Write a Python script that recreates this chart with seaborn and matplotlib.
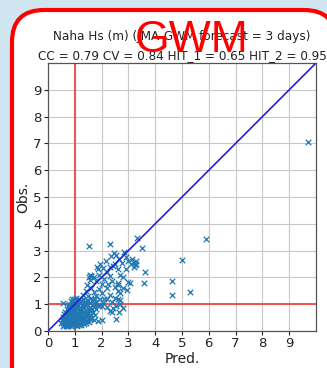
import matplotlib
matplotlib.use("Agg")
import matplotlib.pyplot as plt
from matplotlib.patches import FancyBboxPatch
import seaborn as sns
import pandas as pd

# Naha significant wave height: forecast (Pred.) vs observation (Obs.), in metres
pred_core = [
    0.55, 0.60, 0.66, 0.71, 0.76, 0.82, 0.87, 0.93, 0.98, 1.04, 1.09, 1.16, 1.24, 1.33,
    0.50, 0.56, 0.62, 0.68, 0.74, 0.80, 0.86, 0.92, 0.99, 1.05, 1.12, 1.20, 1.30, 1.41, 1.52,
    0.51, 0.58, 0.65, 0.72, 0.80, 0.88, 0.95, 1.02, 1.10, 1.18, 1.26, 1.35, 1.45, 1.56, 1.70, 1.86,
    0.55, 0.62, 0.70, 0.78, 0.85, 0.92, 1.00, 1.08, 1.15, 1.22, 1.30, 1.40, 1.50, 1.61,
    0.60, 0.68, 0.75, 0.82, 0.90, 0.98, 1.05, 1.12, 1.20, 1.28, 1.38, 1.48, 1.60, 1.75,
    0.65, 0.72, 0.80, 0.88, 0.95, 1.02, 1.10, 1.18, 1.25, 1.35, 1.45, 1.55, 1.68,
    0.70, 0.78, 0.85, 0.92, 1.00, 1.08, 1.15, 1.22, 1.30, 1.40, 1.52, 1.65, 1.80,
    0.75, 0.82, 0.90, 0.97, 1.05, 1.12, 1.20, 1.30, 1.42, 1.55, 1.70, 1.90,
    0.80, 0.88, 0.95, 1.02, 1.10, 1.18, 1.28, 1.40, 1.55, 1.70, 1.85, 2.05,
    0.85, 0.92, 1.00, 1.08, 1.15, 1.25, 1.38, 1.50, 1.65, 1.80,
    0.90, 0.98, 1.05, 1.15, 1.30, 1.45, 1.60, 1.75, 1.95, 2.20,
]
obs_core = [
    0.18, 0.22, 0.19, 0.24, 0.20, 0.23, 0.18, 0.22, 0.25, 0.21, 0.19, 0.24, 0.22, 0.26,
    0.31, 0.28, 0.33, 0.29, 0.32, 0.27, 0.34, 0.30, 0.28, 0.33, 0.31, 0.29, 0.35, 0.30, 0.33,
    0.42, 0.38, 0.41, 0.44, 0.39, 0.42, 0.37, 0.43, 0.40, 0.45, 0.38, 0.42, 0.39, 0.44, 0.41, 0.38,
    0.52, 0.48, 0.51, 0.54, 0.49, 0.53, 0.47, 0.52, 0.55, 0.50, 0.48, 0.53, 0.51, 0.49,
    0.62, 0.58, 0.61, 0.64, 0.59, 0.63, 0.57, 0.62, 0.65, 0.60, 0.58, 0.63, 0.61, 0.59,
    0.72, 0.68, 0.71, 0.74, 0.69, 0.73, 0.67, 0.72, 0.75, 0.70, 0.68, 0.73, 0.71,
    0.82, 0.78, 0.81, 0.84, 0.79, 0.83, 0.77, 0.82, 0.85, 0.80, 0.78, 0.83, 0.81,
    0.92, 0.88, 0.91, 0.94, 0.89, 0.93, 0.87, 0.92, 0.95, 0.90, 0.88, 0.93,
    1.02, 0.98, 1.01, 1.04, 0.99, 1.03, 0.97, 1.02, 1.05, 1.00, 0.98, 1.03,
    1.12, 1.08, 1.11, 1.14, 1.09, 1.13, 1.07, 1.12, 1.15, 1.10,
    1.20, 1.18, 1.22, 1.19, 1.21, 1.17, 1.23, 1.20, 1.18, 1.21,
]
pred_mid = [
    1.30, 1.40, 1.50, 1.60, 1.70, 1.45, 1.80, 1.90, 2.00, 2.10, 2.20, 2.30, 2.40, 2.50,
    2.60, 2.70, 2.55, 2.44, 2.30, 2.80, 2.65, 2.20, 2.00, 1.55, 1.60, 1.70, 1.80, 1.90,
    2.00, 2.10, 2.20, 2.30, 2.40, 2.50, 2.60, 2.70, 2.80, 2.62, 1.82, 1.85, 1.95, 2.05,
    2.15, 2.30, 2.44, 2.50, 2.60, 2.70, 2.80, 2.35, 2.45, 2.55, 2.65, 2.75, 2.85, 2.90,
    3.00, 3.10, 3.20, 3.25, 3.30, 3.20, 3.15, 3.30, 2.90, 2.25, 2.62, 3.00, 3.06, 2.94,
    2.69, 2.38, 2.00, 2.55, 1.54, 1.54, 1.62, 1.58, 2.31, 3.31, 3.52, 3.62, 3.59, 0.55,
]
obs_mid = [
    1.35, 1.50, 1.30, 1.60, 1.45, 1.70, 1.30, 1.55, 1.40, 1.20, 1.60, 1.35, 1.10, 1.25,
    1.20, 1.00, 0.95, 0.84, 0.75, 0.85, 0.72, 0.90, 0.95, 1.90, 2.05, 2.00, 1.85, 2.10,
    1.75, 1.95, 2.20, 2.05, 1.85, 1.65, 1.50, 1.40, 1.60, 1.80, 2.38, 2.30, 2.50, 2.35,
    2.60, 2.40, 2.44, 2.50, 2.30, 2.10, 2.00, 2.80, 2.90, 2.85, 2.70, 2.55, 2.95, 2.75,
    2.60, 2.50, 2.55, 2.45, 2.60, 2.40, 2.70, 2.50, 2.30, 1.77, 1.70, 1.83, 1.80, 1.54,
    1.15, 0.72, 0.41, 0.43, 2.01, 3.17, 2.05, 2.10, 3.25, 3.47, 3.10, 2.20, 1.80, 1.03,
]
pred_far = [9.69, 5.90, 4.99, 4.63, 4.63, 5.29]
obs_far = [7.05, 3.42, 2.65, 1.88, 1.36, 1.44]

ticks = list(range(10))
title_lines = [
    "Naha Hs (m) (JMA-GWM forecast = 3 days)",
    "CC = 0.79 CV = 0.84 HIT_1 = 0.65 HIT_2 = 0.95",
]

df = pd.DataFrame({
    "Pred.": pred_core + pred_mid + pred_far,
    "Obs.": obs_core + obs_mid + obs_far,
})

sns.set_theme(style="whitegrid")
plt.rcParams["font.family"] = ["DejaVu Sans"]

W, H = 327, 368
fig = plt.figure(figsize=(W / 100, H / 100), dpi=100)
fig.patch.set_facecolor("#cfe5ef")

# rounded red frame around the panel, kept behind the axes
frame = FancyBboxPatch((0.12, -0.6), 3.24, 4.18,
                       boxstyle="round,pad=0,rounding_size=0.32",
                       transform=fig.dpi_scale_trans, facecolor="white",
                       edgecolor="#ff0000", linewidth=3.0, zorder=-5)
fig.patches.append(frame)

ax = fig.add_axes([48 / W, 1 - 331 / H, (316 - 48) / W, (331 - 63) / H])
ax.set_zorder(1)
ax.set_facecolor("white")

sns.scatterplot(data=df, x="Pred.", y="Obs.", marker="x", s=16,
                color="#1f77b4", linewidth=0.9, ax=ax, zorder=3)

ax.axvline(1, color="#f05050", lw=1.4, zorder=2)
ax.axhline(1, color="#f05050", lw=1.4, zorder=2)
ax.plot([0, 10], [0, 10], color="#2020e0", lw=1.2, zorder=4)

ax.set_xlim(0, 10)
ax.set_ylim(0, 10)
ax.set_xticks(ticks)
ax.set_yticks(ticks)
ax.grid(True, color="#c8c8c8", lw=0.8)
for sp in ax.spines.values():
    sp.set_color("#555555")
    sp.set_linewidth(0.9)
ax.tick_params(axis="both", labelsize=9.5, colors="#222222", length=3,
               width=0.8, pad=1.5, bottom=True, left=True)
ax.set_xlabel("Pred.", fontsize=10, color="#222222", labelpad=1)
ax.set_ylabel("Obs.", fontsize=10, color="#222222", labelpad=2)
ax.set_title("\n".join(title_lines), fontsize=8.65, color="#222222",
             linespacing=1.7, pad=2.5)

fig.text(192 / W, 1 - 40 / H, "GWM", ha="center", va="center",
         fontsize=32, color="#ff0000", family=["Liberation Sans"], zorder=10)

fig.savefig("out.png", dpi=100, facecolor=fig.get_facecolor())
